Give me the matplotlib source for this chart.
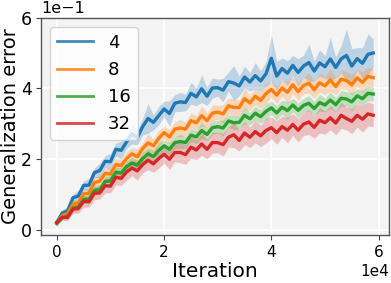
import numpy as np
import matplotlib
matplotlib.use("Agg")
import matplotlib.pyplot as plt
from matplotlib.lines import Line2D

# iteration axis (every 1000 iterations)
iters = list(range(0, 60000, 1000))

labels = ["4", "8", "16", "32"]
colors = ["#1f77b4", "#ff7f0e", "#2ca02c", "#d62728"]

err_4 = [0.022, 0.048, 0.054, 0.091, 0.096, 0.126, 0.127, 0.162, 0.168, 0.194,
         0.193, 0.228, 0.225, 0.249, 0.272, 0.261, 0.292, 0.315, 0.304, 0.323,
         0.342, 0.329, 0.358, 0.362, 0.360, 0.386, 0.376, 0.399, 0.378, 0.401,
         0.402, 0.395, 0.419, 0.415, 0.407, 0.432, 0.418, 0.436, 0.421, 0.441,
         0.485, 0.435, 0.456, 0.443, 0.465, 0.445, 0.463, 0.473, 0.449, 0.472,
         0.461, 0.483, 0.459, 0.483, 0.493, 0.463, 0.484, 0.471, 0.496, 0.500]
std_4 = [0.005, 0.009, 0.012, 0.010, 0.016, 0.013, 0.019, 0.014, 0.021, 0.016,
         0.023, 0.018, 0.026, 0.019, 0.029, 0.020, 0.024, 0.042, 0.021, 0.026,
         0.022, 0.036, 0.024, 0.027, 0.023, 0.031, 0.025, 0.039, 0.026, 0.029,
         0.024, 0.033, 0.027, 0.050, 0.028, 0.031, 0.026, 0.037, 0.029, 0.034,
         0.066, 0.041, 0.030, 0.035, 0.028, 0.039, 0.031, 0.052, 0.029, 0.037,
         0.032, 0.060, 0.030, 0.038, 0.075, 0.049, 0.031, 0.044, 0.058, 0.040]

err_8 = [0.020, 0.041, 0.046, 0.073, 0.077, 0.102, 0.104, 0.134, 0.138, 0.160,
         0.158, 0.185, 0.182, 0.202, 0.215, 0.207, 0.230, 0.246, 0.238, 0.259,
         0.275, 0.263, 0.285, 0.288, 0.285, 0.309, 0.303, 0.323, 0.309, 0.330,
         0.333, 0.328, 0.351, 0.346, 0.346, 0.371, 0.359, 0.378, 0.366, 0.385,
         0.397, 0.381, 0.401, 0.389, 0.410, 0.391, 0.408, 0.415, 0.396, 0.416,
         0.407, 0.424, 0.405, 0.426, 0.422, 0.410, 0.430, 0.417, 0.434, 0.430]
std_8 = [0.004, 0.007, 0.009, 0.011, 0.012, 0.014, 0.013, 0.016, 0.015, 0.017,
         0.016, 0.019, 0.017, 0.020, 0.018, 0.022, 0.017, 0.026, 0.019, 0.023,
         0.018, 0.021, 0.020, 0.025, 0.019, 0.022, 0.020, 0.028, 0.021, 0.023,
         0.020, 0.026, 0.022, 0.024, 0.021, 0.029, 0.022, 0.024, 0.023, 0.028,
         0.022, 0.025, 0.023, 0.031, 0.024, 0.026, 0.023, 0.029, 0.024, 0.026,
         0.025, 0.032, 0.024, 0.027, 0.025, 0.029, 0.024, 0.030, 0.026, 0.025]

err_16 = [0.018, 0.035, 0.038, 0.062, 0.065, 0.086, 0.087, 0.112, 0.114, 0.137,
          0.139, 0.163, 0.161, 0.179, 0.189, 0.183, 0.202, 0.215, 0.208, 0.225,
          0.238, 0.228, 0.247, 0.250, 0.247, 0.268, 0.263, 0.281, 0.270, 0.289,
          0.292, 0.288, 0.308, 0.303, 0.304, 0.324, 0.314, 0.330, 0.320, 0.335,
          0.345, 0.331, 0.347, 0.337, 0.353, 0.338, 0.352, 0.358, 0.343, 0.360,
          0.353, 0.367, 0.354, 0.372, 0.370, 0.362, 0.379, 0.371, 0.386, 0.384]
std_16 = [0.004, 0.006, 0.008, 0.009, 0.011, 0.010, 0.013, 0.012, 0.014, 0.013,
          0.015, 0.014, 0.016, 0.015, 0.017, 0.015, 0.018, 0.016, 0.017, 0.021,
          0.016, 0.018, 0.017, 0.020, 0.017, 0.019, 0.018, 0.023, 0.017, 0.019,
          0.018, 0.022, 0.018, 0.020, 0.019, 0.024, 0.018, 0.020, 0.019, 0.022,
          0.019, 0.021, 0.020, 0.025, 0.019, 0.021, 0.020, 0.022, 0.020, 0.024,
          0.019, 0.023, 0.020, 0.022, 0.021, 0.025, 0.020, 0.022, 0.021, 0.020]

err_32 = [0.022, 0.036, 0.036, 0.059, 0.061, 0.081, 0.080, 0.104, 0.105, 0.125,
          0.124, 0.149, 0.146, 0.164, 0.175, 0.167, 0.185, 0.197, 0.187, 0.202,
          0.214, 0.200, 0.219, 0.219, 0.213, 0.234, 0.226, 0.243, 0.228, 0.247,
          0.247, 0.241, 0.262, 0.269, 0.253, 0.274, 0.262, 0.278, 0.266, 0.281,
          0.289, 0.275, 0.292, 0.282, 0.298, 0.282, 0.299, 0.305, 0.290, 0.310,
          0.303, 0.317, 0.302, 0.324, 0.315, 0.307, 0.324, 0.313, 0.328, 0.324]
std_32 = [0.005, 0.008, 0.010, 0.012, 0.014, 0.016, 0.015, 0.018, 0.017, 0.020,
          0.019, 0.022, 0.020, 0.023, 0.022, 0.026, 0.023, 0.027, 0.024, 0.027,
          0.025, 0.029, 0.026, 0.029, 0.027, 0.031, 0.028, 0.032, 0.027, 0.030,
          0.029, 0.032, 0.028, 0.036, 0.030, 0.033, 0.029, 0.032, 0.030, 0.035,
          0.031, 0.033, 0.030, 0.036, 0.031, 0.033, 0.032, 0.035, 0.031, 0.036,
          0.032, 0.034, 0.033, 0.037, 0.032, 0.035, 0.033, 0.037, 0.034, 0.033]

means = [err_4, err_8, err_16, err_32]
stds = [std_4, std_8, std_16, std_32]

fig = plt.figure(figsize=(3.91, 2.83), dpi=100)
ax = fig.add_axes([0.105, 0.170, 0.89, 0.768])
ax.set_facecolor("#f3f3f3")
ax.grid(True, color="white", linewidth=1.3)
ax.set_axisbelow(True)
for s in ax.spines.values():
    s.set_color("#555555")
    s.set_linewidth(1.0)

x = np.array(iters)
for m, sd, c in zip(means, stds, colors):
    m = np.array(m)
    sd = np.array(sd)
    ax.fill_between(x, m - sd, m + sd, color=c, alpha=0.25, linewidth=0)
    ax.plot(x, m, color=c, linewidth=2.4)

ax.set_yticks([0, 0.2, 0.4, 0.6])
ax.set_xticks([0, 20000, 40000, 60000])
ax.ticklabel_format(style="sci", axis="both", scilimits=(0, 0))
ax.tick_params(axis="y", labelsize=12.5, colors="#444444", labelcolor="black", pad=3)
ax.tick_params(axis="x", labelsize=11, colors="#444444", labelcolor="black")
ax.yaxis.get_offset_text().set_fontsize(11.5)
ax.xaxis.get_offset_text().set_fontsize(11)
ax.set_xlabel("Iteration", fontsize=14.5, labelpad=2)
ax.set_ylabel("Generalization error", fontsize=14, labelpad=1)

handles = [Line2D([0], [0], color=c, linewidth=2, alpha=0.85) for c in colors]
ax.legend(handles, labels, loc="upper left", fontsize=13, framealpha=0.8)

fig.savefig("out.png", dpi=100)
